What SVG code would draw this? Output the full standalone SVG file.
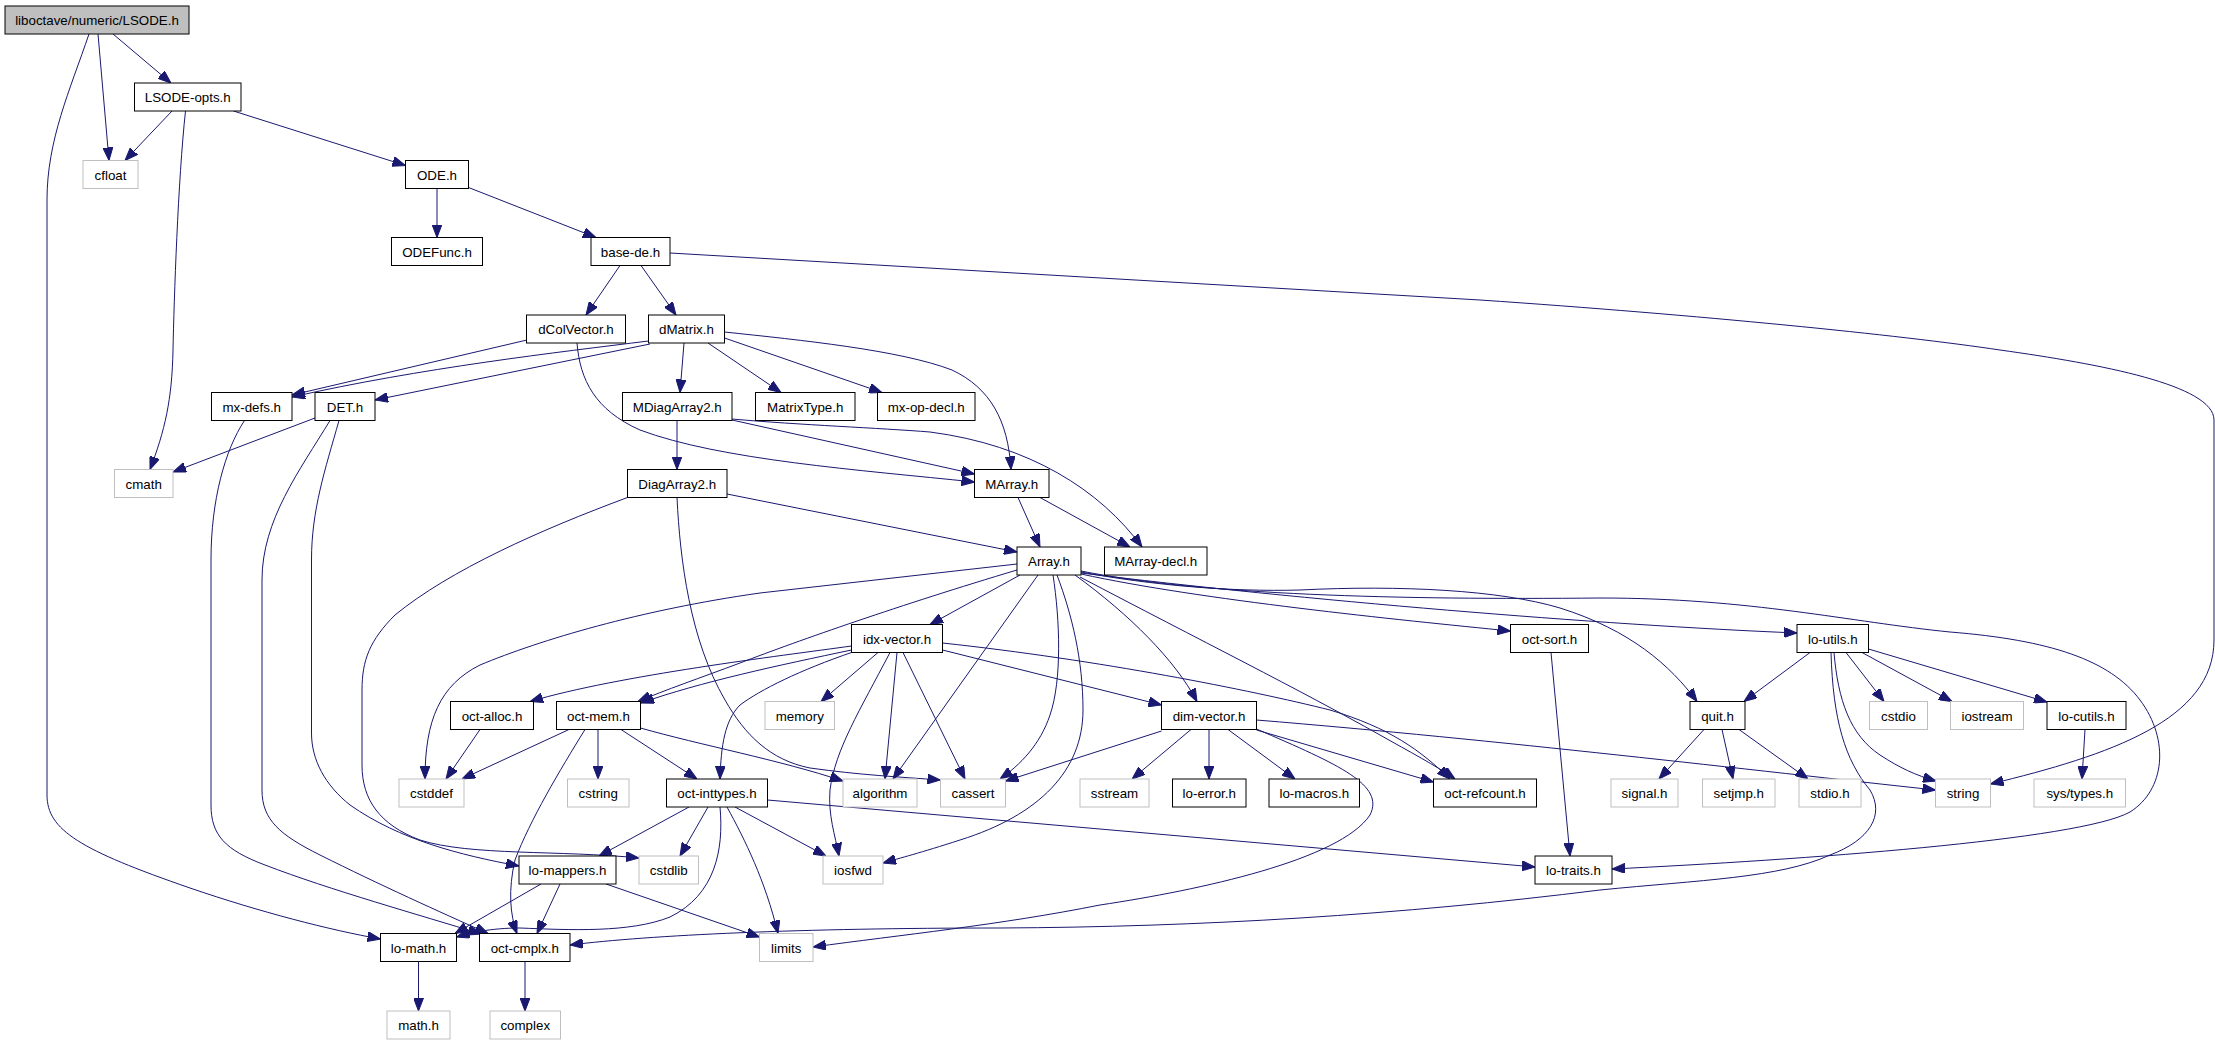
<svg xmlns="http://www.w3.org/2000/svg" width="2215" height="1045" viewBox="0 0 2215 1045">
<style>
.node rect{fill:#fff;stroke:#000;stroke-width:1}
.node.sys rect{stroke:#bfbfbf}
.node.root rect{fill:#bfbfbf}
.node text{font-family:"Liberation Sans",Arial,sans-serif;font-size:13.33px;fill:#000;text-anchor:middle}
.edges path{fill:none;stroke:#191970;stroke-width:1;marker-end:url(#arr)}
</style>
<defs>
<marker id="arr" viewBox="0 0 13 10" refX="13" refY="5" markerWidth="13" markerHeight="10" markerUnits="userSpaceOnUse" orient="auto">
<path d="M0,0 L13,5 L0,10 z" fill="#191970" stroke="#191970"/>
</marker>
</defs>
<rect width="2215" height="1045" fill="#fff"/>
<g class="edges" id="edges">
<path d="M113,34 L171,83"/>
<path d="M98,34 L109,160.5"/>
<path d="M89,34 C70,90 47,140 47,200 L47,795 C47,830 80,850 190,888 C260,912 330,930 380.5,939"/>
<path d="M172,111 L125,160.5"/>
<path d="M185.5,111 C178,180 174,300 173,350 C172,400 165,430 150,469.5"/>
<path d="M233.5,111 L405.5,165.5"/>
<path d="M437,188.5 L437,237.5"/>
<path d="M468.5,187.5 L596,237.5"/>
<path d="M620,265.5 L586,315"/>
<path d="M641,265.5 L676,315"/>
<path d="M670,253 L1480,300 C1700,315 1900,335 2000,350 C2100,364 2214,385 2214,420 L2214,640 C2214,720 2110,755 1990.5,784"/>
<path d="M527,340 L292,395"/>
<path d="M577,343 C580,380 595,410 640,430 C720,460 860,470 974.5,482"/>
<path d="M648.5,341 C560,352 420,368 292,397"/>
<path d="M650,344 L375,400"/>
<path d="M684,343 L680,392.5"/>
<path d="M708,343 L781,392.5"/>
<path d="M724.5,338 L882,392.5"/>
<path d="M724.5,332 C800,340 900,350 952,370 C990,388 1008,420 1011,469.5"/>
<path d="M244.5,420.5 C225,450 211,500 211,560 L211,805 C211,835 225,850 265,865 C330,890 420,915 481,934"/>
<path d="M315,418 L173,472"/>
<path d="M330,420.5 C300,470 262,520 262,580 L262,790 C262,820 280,835 320,855 C380,885 440,912 488,933.5"/>
<path d="M339,420.5 C325,470 311.5,510 311.5,560 L311.5,733 C311.5,760 325,785 350,805 C400,840 460,855 519,866"/>
<path d="M677,420.5 L677,469.5"/>
<path d="M732,420 L974.5,474"/>
<path d="M732,419 C800,425 880,428 930,432 C1030,445 1100,490 1142,547"/>
<path d="M727,494 L1017,552"/>
<path d="M677,497.5 C680,560 690,640 725,700 C745,735 770,760 810,768 C860,775 900,777 940.5,780"/>
<path d="M627.5,497.5 C540,530 450,570 395,615 C370,640 362,660 362,690 L362,765 C362,800 380,825 420,840 C470,856 560,850 639,858"/>
<path d="M1018,497.5 L1040,547"/>
<path d="M1040,497.5 L1130,547"/>
<path d="M1020,575 L930,624.5"/>
<path d="M1017,564 L760,593 C640,610 540,640 480,665 C440,685 425,720 425,779"/>
<path d="M1017,570 C900,605 800,640 740,663 C700,678 665,690 638,701.5"/>
<path d="M1038,575 L893,779"/>
<path d="M1053,575 C1060,620 1062,680 1050,715 C1040,745 1020,765 1000,779"/>
<path d="M1057,575 C1072,615 1083,660 1083,710 C1083,770 1040,815 960,840 C920,853 900,858 883,863"/>
<path d="M1075,575 C1130,615 1175,660 1197,701.5"/>
<path d="M1080,577 C1200,640 1300,690 1380,735 C1410,752 1435,765 1455,779"/>
<path d="M1081,574 C1200,600 1400,620 1510.5,631"/>
<path d="M1081,573 C1300,600 1600,625 1797,633"/>
<path d="M1081,572 C1150,585 1230,592 1300,590 C1400,585 1500,590 1560,608 C1630,630 1670,665 1697,701.5"/>
<path d="M1081,571 C1200,595 1400,600 1600,598 C1750,598 1850,622 1950,632 C2050,640 2110,660 2140,700 C2170,740 2165,790 2130,812 C2080,840 1800,860 1612,869"/>
<path d="M851.5,646 C780,656 620,675 530,701.5"/>
<path d="M851.5,650 C780,665 700,682 641,703"/>
<path d="M878,652.5 L821,701.5"/>
<path d="M942.5,650 L1161.5,705"/>
<path d="M853,652 C800,670 760,690 740,705 C725,720 721,745 720,779"/>
<path d="M897,652.5 L885,779"/>
<path d="M903,652.5 L965,779"/>
<path d="M890,652.5 C860,710 835,750 830,790 C828,815 835,835 839,856"/>
<path d="M942.5,643 C1100,660 1250,690 1330,710 C1390,728 1420,750 1450,779"/>
<path d="M1551,652.5 L1570,856"/>
<path d="M1810,652.5 L1744,701.5"/>
<path d="M1846,652.5 L1884,701.5"/>
<path d="M1862,652.5 L1952,701.5"/>
<path d="M1868.5,649 L2047,702"/>
<path d="M1834,652.5 C1838,700 1850,735 1880,755 C1900,768 1915,775 1936,781"/>
<path d="M1831,652.5 C1833,720 1845,760 1870,790 C1885,815 1870,840 1830,855 C1780,878 1700,880 1600,890 C1400,915 1200,927 1000,928 C800,928 650,935 570,945"/>
<path d="M480,729.5 L446,779"/>
<path d="M569,729.5 L462,779"/>
<path d="M598,729.5 L598,779"/>
<path d="M621,729.5 L697,779"/>
<path d="M640.5,728 C700,745 780,760 843,781"/>
<path d="M585,729.5 C560,770 530,820 515,860 C508,890 510,915 517,933.5"/>
<path d="M1161.5,731 L1005.5,781"/>
<path d="M1191,729.5 L1132,779"/>
<path d="M1209,729.5 L1209,779"/>
<path d="M1228,729.5 L1295,779"/>
<path d="M1256.5,730 L1433.5,782"/>
<path d="M1256.5,720 C1500,740 1750,770 1935.5,790"/>
<path d="M1256.5,729 C1340,765 1385,785 1370,815 C1340,860 1200,890 1100,905 C1000,925 900,935 813,947"/>
<path d="M1704,729.5 L1659,779"/>
<path d="M1722,729.5 L1733,779"/>
<path d="M1739,729.5 L1808,779"/>
<path d="M2085,729.5 L2082,779"/>
<path d="M689,807 L599,856"/>
<path d="M708,807 L680,856"/>
<path d="M720,807 C724,850 715,895 670,917 C630,933 570,930 520,928 C490,928 470,933 456.5,937"/>
<path d="M735,807 L826,856"/>
<path d="M727,807 C745,840 765,880 778,933.5"/>
<path d="M767.5,800 L1535,867"/>
<path d="M541,884 L455,933.5"/>
<path d="M560,884 L537,933.5"/>
<path d="M606,884 L759.5,937"/>
<path d="M418.5,961.5 L418.5,1011"/>
<path d="M525,961.5 L525,1011"/>
</g>
<g id="n-LSODE_h" class="node root"><rect x="5" y="6" width="184" height="28"/><text x="97" y="25">liboctave/numeric/LSODE.h</text></g>
<g id="n-LSODE-opts_h" class="node"><rect x="134.5" y="83" width="106.5" height="28"/><text x="187.75" y="102">LSODE-opts.h</text></g>
<g id="n-cfloat" class="node sys"><rect x="83" y="160.5" width="55" height="28"/><text x="110.5" y="179.5">cfloat</text></g>
<g id="n-ODE_h" class="node"><rect x="405.5" y="160.5" width="63" height="28"/><text x="437" y="179.5">ODE.h</text></g>
<g id="n-ODEFunc_h" class="node"><rect x="391.5" y="237.5" width="91" height="28"/><text x="437" y="256.5">ODEFunc.h</text></g>
<g id="n-base-de_h" class="node"><rect x="591" y="237.5" width="79" height="28"/><text x="630.5" y="256.5">base-de.h</text></g>
<g id="n-dColVector_h" class="node"><rect x="526.5" y="315" width="99" height="28"/><text x="576" y="334">dColVector.h</text></g>
<g id="n-dMatrix_h" class="node"><rect x="648.5" y="315" width="76" height="28"/><text x="686.5" y="334">dMatrix.h</text></g>
<g id="n-mx-defs_h" class="node"><rect x="211.5" y="392.5" width="80.5" height="28"/><text x="251.75" y="411.5">mx-defs.h</text></g>
<g id="n-DET_h" class="node"><rect x="315" y="392.5" width="60" height="28"/><text x="345" y="411.5">DET.h</text></g>
<g id="n-MDiagArray2_h" class="node"><rect x="622.5" y="392.5" width="109.5" height="28"/><text x="677.25" y="411.5">MDiagArray2.h</text></g>
<g id="n-MatrixType_h" class="node"><rect x="755.5" y="392.5" width="99.5" height="28"/><text x="805.25" y="411.5">MatrixType.h</text></g>
<g id="n-mx-op-decl_h" class="node"><rect x="877.5" y="392.5" width="97.5" height="28"/><text x="926.25" y="411.5">mx-op-decl.h</text></g>
<g id="n-cmath" class="node sys"><rect x="114.5" y="469.5" width="58.5" height="28"/><text x="143.75" y="488.5">cmath</text></g>
<g id="n-DiagArray2_h" class="node"><rect x="627.5" y="469.5" width="99.5" height="28"/><text x="677.25" y="488.5">DiagArray2.h</text></g>
<g id="n-MArray_h" class="node"><rect x="974.5" y="469.5" width="74.5" height="28"/><text x="1011.75" y="488.5">MArray.h</text></g>
<g id="n-Array_h" class="node"><rect x="1017" y="547" width="64" height="28"/><text x="1049" y="566">Array.h</text></g>
<g id="n-MArray-decl_h" class="node"><rect x="1104.5" y="547" width="102.5" height="28"/><text x="1155.75" y="566">MArray-decl.h</text></g>
<g id="n-idx-vector_h" class="node"><rect x="851.5" y="624.5" width="91" height="28"/><text x="897" y="643.5">idx-vector.h</text></g>
<g id="n-oct-sort_h" class="node"><rect x="1510.5" y="624.5" width="78" height="28"/><text x="1549.5" y="643.5">oct-sort.h</text></g>
<g id="n-lo-utils_h" class="node"><rect x="1797" y="624.5" width="71.5" height="28"/><text x="1832.75" y="643.5">lo-utils.h</text></g>
<g id="n-oct-alloc_h" class="node"><rect x="450.5" y="701.5" width="83" height="28"/><text x="492" y="720.5">oct-alloc.h</text></g>
<g id="n-oct-mem_h" class="node"><rect x="556.5" y="701.5" width="84" height="28"/><text x="598.5" y="720.5">oct-mem.h</text></g>
<g id="n-memory" class="node sys"><rect x="765" y="701.5" width="69.5" height="28"/><text x="799.75" y="720.5">memory</text></g>
<g id="n-dim-vector_h" class="node"><rect x="1161.5" y="701.5" width="95" height="28"/><text x="1209" y="720.5">dim-vector.h</text></g>
<g id="n-quit_h" class="node"><rect x="1690" y="701.5" width="55" height="28"/><text x="1717.5" y="720.5">quit.h</text></g>
<g id="n-cstdio" class="node sys"><rect x="1869.5" y="701.5" width="58" height="28"/><text x="1898.5" y="720.5">cstdio</text></g>
<g id="n-iostream" class="node sys"><rect x="1950.5" y="701.5" width="73" height="28"/><text x="1987" y="720.5">iostream</text></g>
<g id="n-lo-cutils_h" class="node"><rect x="2047" y="701.5" width="79" height="28"/><text x="2086.5" y="720.5">lo-cutils.h</text></g>
<g id="n-cstddef" class="node sys"><rect x="399" y="779" width="65" height="28"/><text x="431.5" y="798">cstddef</text></g>
<g id="n-cstring" class="node sys"><rect x="567.5" y="779" width="61.5" height="28"/><text x="598.25" y="798">cstring</text></g>
<g id="n-oct-inttypes_h" class="node"><rect x="666.5" y="779" width="101" height="28"/><text x="717" y="798">oct-inttypes.h</text></g>
<g id="n-algorithm" class="node sys"><rect x="843" y="779" width="74" height="28"/><text x="880" y="798">algorithm</text></g>
<g id="n-cassert" class="node sys"><rect x="940.5" y="779" width="65" height="28"/><text x="973" y="798">cassert</text></g>
<g id="n-sstream" class="node sys"><rect x="1080" y="779" width="69" height="28"/><text x="1114.5" y="798">sstream</text></g>
<g id="n-lo-error_h" class="node"><rect x="1172.5" y="779" width="73.5" height="28"/><text x="1209.25" y="798">lo-error.h</text></g>
<g id="n-lo-macros_h" class="node"><rect x="1269" y="779" width="90.5" height="28"/><text x="1314.25" y="798">lo-macros.h</text></g>
<g id="n-oct-refcount_h" class="node"><rect x="1433.5" y="779" width="103" height="28"/><text x="1485" y="798">oct-refcount.h</text></g>
<g id="n-signal_h" class="node sys"><rect x="1611" y="779" width="67" height="28"/><text x="1644.5" y="798">signal.h</text></g>
<g id="n-setjmp_h" class="node sys"><rect x="1702.5" y="779" width="72.5" height="28"/><text x="1738.75" y="798">setjmp.h</text></g>
<g id="n-stdio_h" class="node sys"><rect x="1799" y="779" width="62" height="28"/><text x="1830" y="798">stdio.h</text></g>
<g id="n-string" class="node sys"><rect x="1935.5" y="779" width="55" height="28"/><text x="1963" y="798">string</text></g>
<g id="n-sys_types_h" class="node sys"><rect x="2034" y="779" width="91.5" height="28"/><text x="2079.75" y="798">sys/types.h</text></g>
<g id="n-lo-mappers_h" class="node"><rect x="519" y="856" width="97" height="28"/><text x="567.5" y="875">lo-mappers.h</text></g>
<g id="n-cstdlib" class="node sys"><rect x="639" y="856" width="59.5" height="28"/><text x="668.75" y="875">cstdlib</text></g>
<g id="n-iosfwd" class="node sys"><rect x="823" y="856" width="60" height="28"/><text x="853" y="875">iosfwd</text></g>
<g id="n-lo-traits_h" class="node"><rect x="1535" y="856" width="77" height="28"/><text x="1573.5" y="875">lo-traits.h</text></g>
<g id="n-lo-math_h" class="node"><rect x="380.5" y="933.5" width="76" height="28"/><text x="418.5" y="952.5">lo-math.h</text></g>
<g id="n-oct-cmplx_h" class="node"><rect x="479.5" y="933.5" width="90.5" height="28"/><text x="524.75" y="952.5">oct-cmplx.h</text></g>
<g id="n-limits" class="node sys"><rect x="759.5" y="933.5" width="53.5" height="28"/><text x="786.25" y="952.5">limits</text></g>
<g id="n-math_h" class="node sys"><rect x="387" y="1011" width="63" height="28"/><text x="418.5" y="1030">math.h</text></g>
<g id="n-complex" class="node sys"><rect x="490" y="1011" width="70.5" height="28"/><text x="525.25" y="1030">complex</text></g>
</svg>
